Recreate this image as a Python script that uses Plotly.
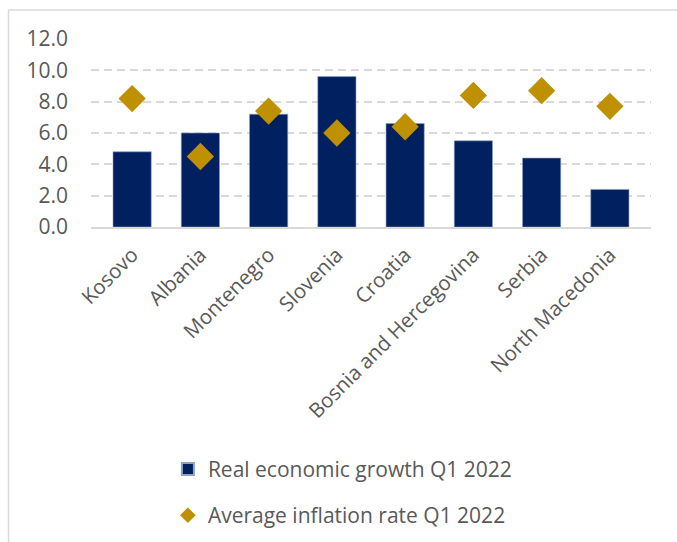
import plotly.graph_objects as go

countries = ["Kosovo", "Albania", "Montenegro", "Slovenia", "Croatia",
             "Bosnia and Hercegovina", "Serbia", "North Macedonia"]
growth = [4.8, 6.0, 7.2, 9.6, 6.6, 5.5, 4.4, 2.4]
inflation = [8.2, 4.5, 7.4, 6.0, 6.4, 8.4, 8.7, 7.7]
tick_vals = [0, 2, 4, 6, 8, 10, 12]
tick_text = ["0.0", "2.0", "4.0", "6.0", "8.0", "10.0", "12.0"]

NAVY = "#002060"
GOLD = "#BF9000"
GRAY_TXT = "#595959"
FONT = "Open Sans"

fig = go.Figure()
fig.add_trace(go.Bar(
    x=countries, y=growth, name="Real economic growth Q1 2022",
    marker=dict(color=NAVY, line=dict(color="#8EA0C4", width=0.6)),
    width=0.56, legendgroup="a",
))
fig.add_trace(go.Scatter(
    x=countries, y=inflation, name="Average inflation rate Q1 2022",
    mode="markers", marker=dict(symbol="diamond", size=21, color=GOLD),
    legendgroup="b",
))

fig.update_layout(
    width=677, height=542,
    margin=dict(l=91, r=26, t=39, b=315, autoexpand=False),
    paper_bgcolor="white", plot_bgcolor="white",
    font=dict(family=FONT, color=GRAY_TXT, size=20),
    showlegend=True,
    legend=dict(
        orientation="v", xref="container", yref="container",
        x=0.248, y=0.172, xanchor="left", yanchor="top",
        font=dict(family=FONT, size=21, color=GRAY_TXT),
        tracegroupgap=16, itemsizing="constant",
        bgcolor="rgba(0,0,0,0)",
    ),
    shapes=[
        dict(type="line", xref="paper", yref="paper",
             x0=(8.5 - 91) / 560, x1=(8.5 - 91) / 560,
             y0=(227 - 10) / 188, y1=(227 - 560) / 188,
             line=dict(color="#D9D9D9", width=1.5)),
        dict(type="line", xref="paper", yref="paper",
             x0=(8.5 - 91) / 560, x1=(700 - 91) / 560,
             y0=(227 - 10) / 188, y1=(227 - 10) / 188,
             line=dict(color="#D9D9D9", width=1.5)),
    ],
)
fig.update_xaxes(
    tickangle=-45, showgrid=False, showline=True, linecolor="#D9D9D9",
    linewidth=1.5, ticks="", tickfont=dict(size=20.5, color=GRAY_TXT),
    automargin=False, ticklabelstandoff=6,
)
fig.update_yaxes(
    range=[0, 12], tickvals=tick_vals, ticktext=tick_text,
    showgrid=True, gridcolor="#D9D9D9", gridwidth=1.5, griddash="8px,5px",
    zeroline=False, showline=False, ticks="", ticklabelstandoff=22,
    tickfont=dict(size=21, color=GRAY_TXT), automargin=False,
)

fig.write_html("out.html")
